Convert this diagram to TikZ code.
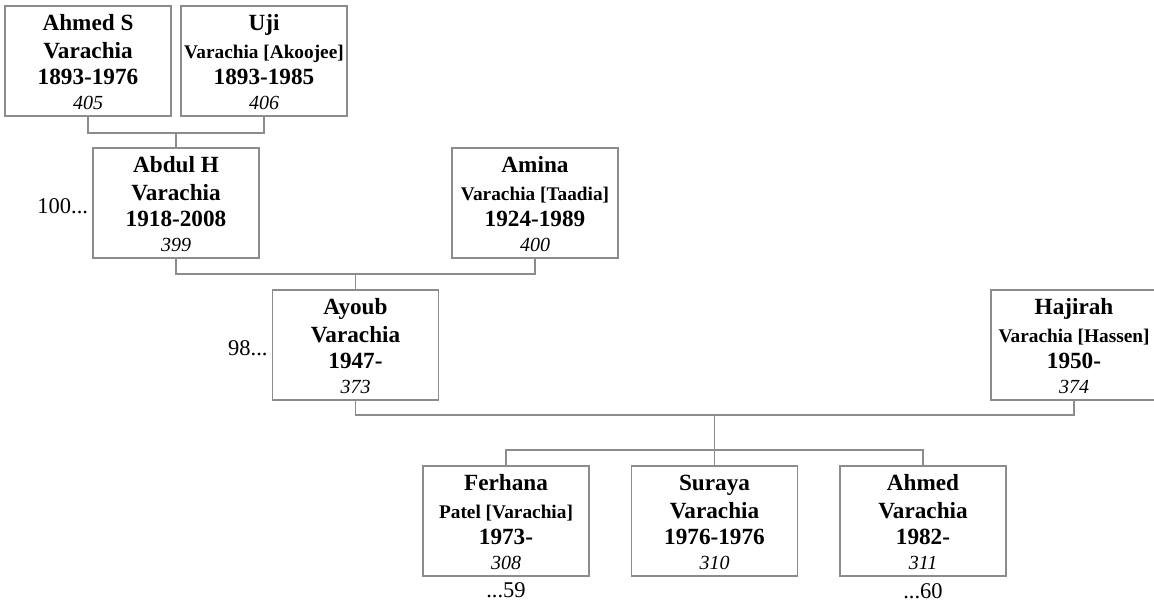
\documentclass[tikz,border=0pt]{standalone}
\usepackage{fontspec}
\setmainfont{Liberation Serif}
\definecolor{linegray}{RGB}{140,140,140}
\tikzset{
 pbox/.style={draw=linegray, line width=1.4pt, minimum width=166pt, minimum height=110pt, inner sep=0pt},
 bigt/.style={font=\fontsize{23.2}{26}\selectfont\bfseries, inner sep=0pt},
 smallt/.style={font=\fontsize{19.3}{22}\selectfont\bfseries, inner sep=0pt},
 numt/.style={font=\fontsize{20}{22}\selectfont\itshape, inner sep=0pt},
 sidet/.style={font=\fontsize{22.5}{26}\selectfont, inner sep=0pt},
 link/.style={draw=linegray, line width=1.4pt},
}
\newcommand{\famperson}[8]{%
 \node[pbox] (#1) at (#2,#3) {};
 \node[bigt, anchor=base] (#1n) at ([yshift=-25pt]#1.north) {#4};
 \node[#6, anchor=base] (#1s) at ([yshift=-53pt]#1.north) {#5};
 \node[bigt, anchor=base] (#1y) at ([yshift=-79pt]#1.north) {#7};
 \node[numt, anchor=base] (#1d) at ([yshift=-104pt]#1.north) {#8};
}
\begin{document}
\begin{tikzpicture}[x=1pt,y=-1pt]
\useasboundingbox (0,0) rectangle (1154,602);
\famperson{ahmedS}{88}{61}{Ahmed S}{Varachia}{bigt}{1893-1976}{405}
\famperson{uji}{264}{61}{Uji}{Varachia [Akoojee]}{smallt}{1893-1985}{406}
\famperson{abdul}{176}{203}{Abdul H}{Varachia}{bigt}{1918-2008}{399}
\famperson{amina}{535}{203}{Amina}{Varachia [Taadia]}{smallt}{1924-1989}{400}
\famperson{ayoub}{355.5}{345}{Ayoub}{Varachia}{bigt}{1947-}{373}
\famperson{hajirah}{1074}{345}{Hajirah}{Varachia [Hassen]}{smallt}{1950-}{374}
\famperson{ferhana}{506}{521}{Ferhana}{Patel [Varachia]}{smallt}{1973-}{308}
\famperson{suraya}{714.5}{521}{Suraya}{Varachia}{bigt}{1976-1976}{310}
\famperson{ahmed}{923}{521}{Ahmed}{Varachia}{bigt}{1982-}{311}

\node[sidet, anchor=east] (l100) at ([xshift=-4pt,yshift=-3pt]abdul.west) {100...};
\node[sidet, anchor=east] (l98) at ([xshift=-4pt,yshift=-3pt]ayoub.west) {98...};
\node[sidet] (l59) at ([yshift=-14pt]ferhana.south) {...59};
\node[sidet] (l60) at ([yshift=-14pt]ahmed.south) {...60};

\coordinate (j1) at (176,133);
\coordinate (j2) at (355.5,274);
\coordinate (j3) at (714.5,415);
\coordinate (j4) at (714.5,450);
\draw[link] (ahmedS.south) |- (j1) -| (uji.south);
\draw[link] (j1) -- (abdul.north);
\draw[link] (abdul.south) |- (j2) -| (amina.south);
\draw[link] (j2) -- (ayoub.north);
\draw[link] (ayoub.south) |- (j3) -| (hajirah.south);
\draw[link] (j3) -- (suraya.north);
\draw[link] (ferhana.north) |- (j4) -| (ahmed.north);
\end{tikzpicture}
\end{document}
